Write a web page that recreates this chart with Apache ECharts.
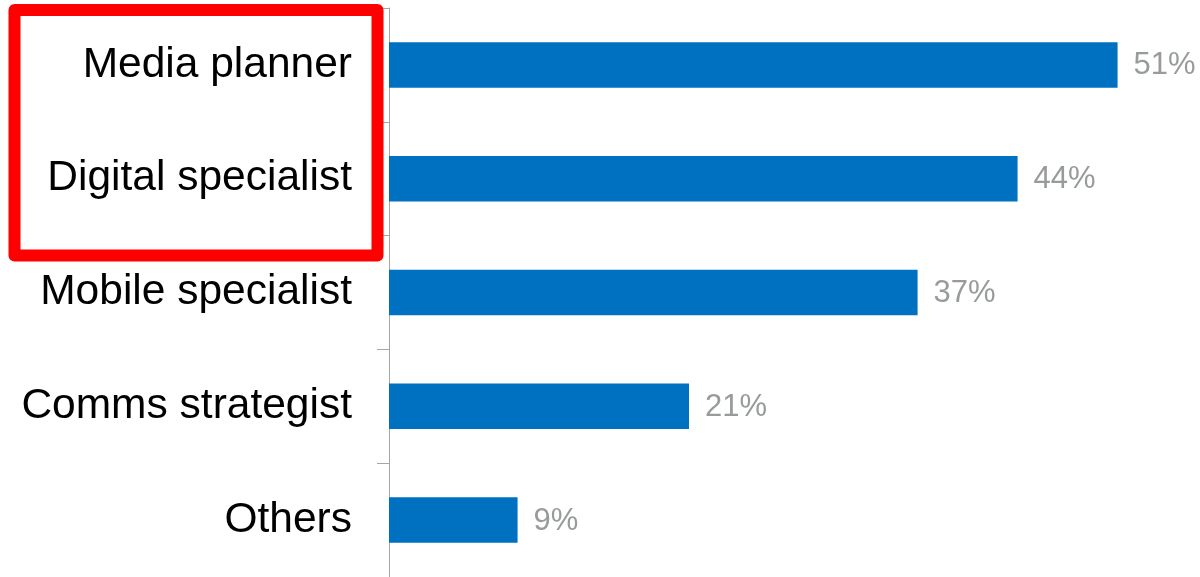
<!DOCTYPE html>
<html>
<head>
<meta charset="utf-8">
<style>
  html, body { margin: 0; padding: 0; background: #ffffff; }
  #chart { width: 1200px; height: 577px; }
</style>
<script src="https://cdn.jsdelivr.net/npm/echarts@6/dist/echarts.min.js"></script>
</head>
<body>
<div id="chart"></div>
<script>
// Share of respondents by role
const categories = ['Media planner', 'Digital specialist', 'Mobile specialist', 'Comms strategist', 'Others'];
const shares = [51, 44, 37, 21, 9];

const chart = echarts.init(document.getElementById('chart'));

chart.setOption({
  animation: false,
  backgroundColor: '#ffffff',
  grid: { left: 389, top: 8, width: 800, height: 570 },
  xAxis: {
    type: 'value',
    min: 0,
    max: 56,
    show: false
  },
  yAxis: {
    type: 'category',
    data: categories,
    inverse: true,
    axisLine: { show: true, lineStyle: { color: '#a6a6a6', width: 1 } },
    axisTick: { show: true, length: 12, lineStyle: { color: '#a6a6a6' } },
    axisLabel: {
      margin: 37,
      color: '#000000',
      fontFamily: 'Liberation Sans, Arial, sans-serif',
      fontSize: 42.5,
      padding: [5, 0, 0, 0]
    },
    splitLine: { show: false }
  },
  series: [{
    type: 'bar',
    data: shares,
    barWidth: '40%',
    itemStyle: { color: '#0070c0' },
    label: {
      show: true,
      position: 'right',
      distance: 16,
      formatter: '{c}%',
      color: '#979b9b',
      fontFamily: 'Liberation Sans, Arial, sans-serif',
      fontSize: 31,
      offset: [0, 1]
    }
  }],
  graphic: [{
    type: 'rect',
    z: 100,
    shape: { x: 14.5, y: 10, width: 363, height: 245.5 },
    style: { fill: 'none', stroke: '#ff0000', lineWidth: 12, lineJoin: 'round' }
  }]
});
</script>
</body>
</html>
